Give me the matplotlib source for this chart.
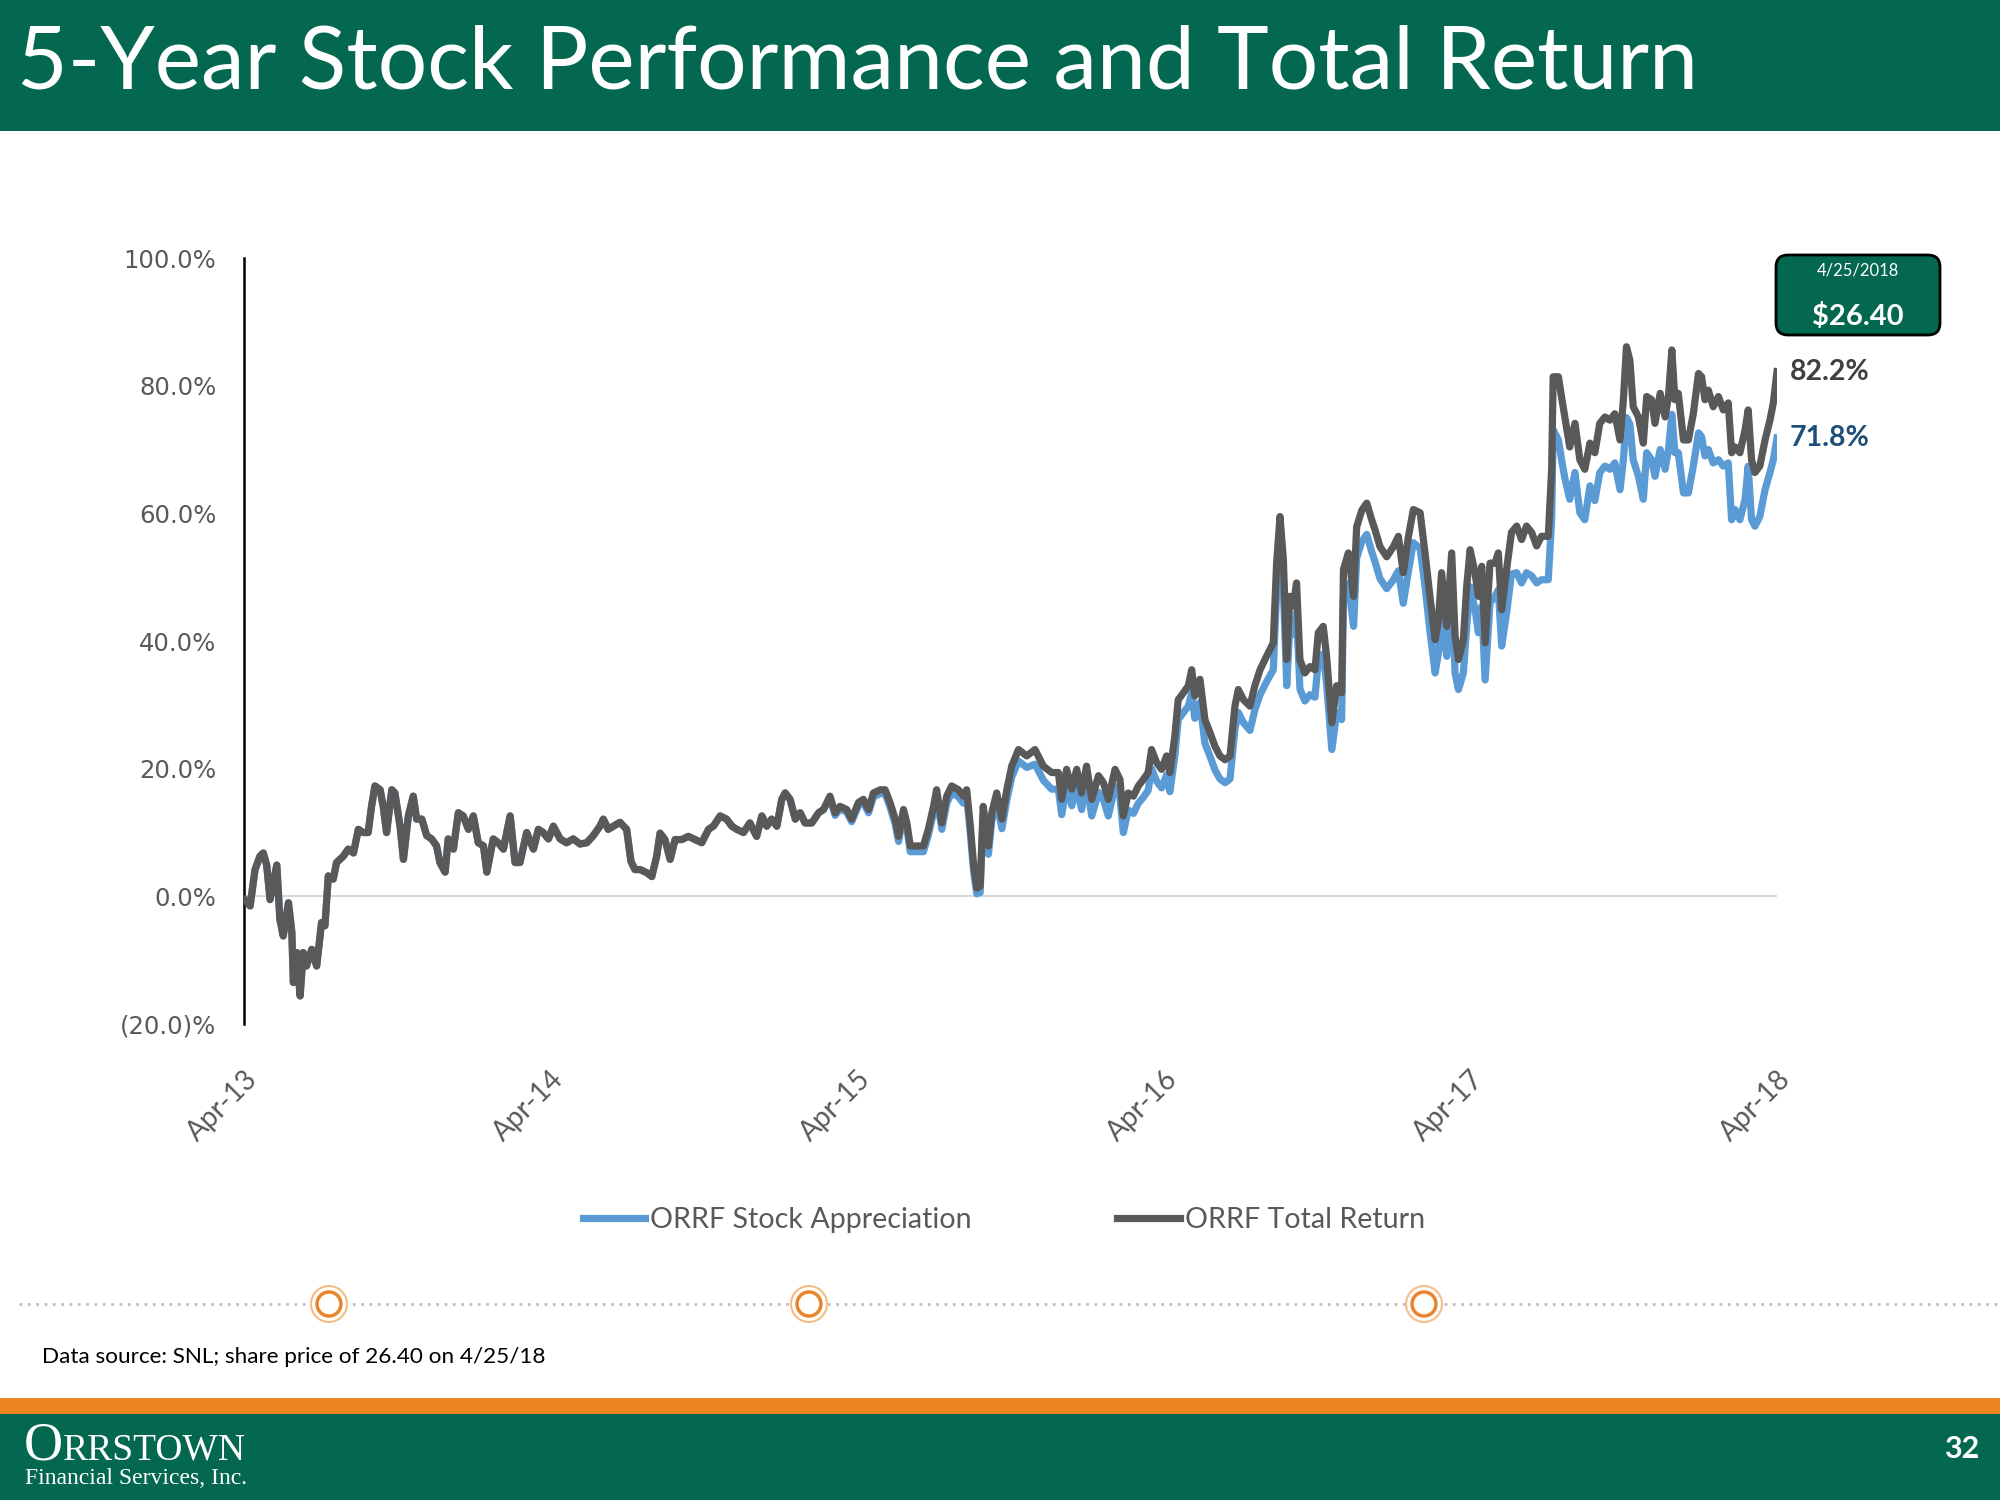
import matplotlib

matplotlib.use("Agg")
import matplotlib.pyplot as plt
from matplotlib.patches import Rectangle, FancyBboxPatch, Circle
from matplotlib.ticker import FuncFormatter

# years since Apr-2013
t_years = [
    0.003, 0.020, 0.036, 0.052, 0.063, 0.074, 0.085, 0.107, 0.117, 0.128,
    0.145, 0.156, 0.161, 0.172, 0.183, 0.193, 0.204, 0.221, 0.237, 0.253,
    0.264, 0.275, 0.291, 0.302, 0.324, 0.340, 0.357, 0.373, 0.389, 0.405,
    0.416, 0.427, 0.444, 0.454, 0.465, 0.482, 0.492, 0.509, 0.520, 0.536,
    0.552, 0.563, 0.580, 0.596, 0.612, 0.628, 0.639, 0.656, 0.666, 0.683,
    0.699, 0.715, 0.732, 0.748, 0.764, 0.781, 0.792, 0.813, 0.829, 0.846,
    0.868, 0.884, 0.900, 0.922, 0.944, 0.960, 0.976, 0.993, 1.009, 1.031,
    1.052, 1.074, 1.096, 1.118, 1.139, 1.161, 1.172, 1.188, 1.205, 1.226,
    1.248, 1.262, 1.275, 1.292, 1.314, 1.330, 1.346, 1.357, 1.373, 1.390,
    1.406, 1.428, 1.449, 1.471, 1.493, 1.515, 1.531, 1.553, 1.574, 1.591,
    1.607, 1.629, 1.650, 1.672, 1.689, 1.705, 1.721, 1.738, 1.754, 1.765,
    1.781, 1.798, 1.814, 1.830, 1.852, 1.874, 1.890, 1.911, 1.928, 1.944,
    1.966, 1.982, 2.004, 2.020, 2.037, 2.053, 2.075, 2.091, 2.107, 2.124,
    2.135, 2.151, 2.162, 2.173, 2.194, 2.216, 2.232, 2.249, 2.259, 2.276,
    2.292, 2.308, 2.330, 2.346, 2.357, 2.368, 2.379, 2.390, 2.401, 2.411,
    2.428, 2.439, 2.455, 2.472, 2.488, 2.504, 2.526, 2.553, 2.580, 2.607,
    2.634, 2.656, 2.667, 2.683, 2.700, 2.716, 2.732, 2.748, 2.765, 2.787,
    2.803, 2.819, 2.841, 2.857, 2.868, 2.884, 2.901, 2.917, 2.933, 2.949,
    2.960, 2.977, 2.993, 3.009, 3.020, 3.036, 3.047, 3.064, 3.080, 3.091,
    3.101, 3.118, 3.134, 3.151, 3.167, 3.183, 3.200, 3.216, 3.232, 3.243,
    3.260, 3.281, 3.297, 3.314, 3.335, 3.357, 3.368, 3.379, 3.390, 3.401,
    3.411, 3.422, 3.433, 3.444, 3.460, 3.477, 3.493, 3.504, 3.520, 3.531,
    3.548, 3.564, 3.580, 3.586, 3.602, 3.619, 3.629, 3.646, 3.662, 3.678,
    3.689, 3.705, 3.727, 3.749, 3.765, 3.781, 3.798, 3.814, 3.836, 3.852,
    3.868, 3.885, 3.896, 3.906, 3.923, 3.939, 3.950, 3.961, 3.977, 3.988,
    3.999, 4.015, 4.026, 4.037, 4.048, 4.064, 4.080, 4.091, 4.102, 4.118,
    4.134, 4.151, 4.167, 4.183, 4.200, 4.216, 4.232, 4.254, 4.265, 4.270,
    4.287, 4.297, 4.308, 4.324, 4.341, 4.357, 4.373, 4.390, 4.406, 4.422,
    4.439, 4.455, 4.471, 4.488, 4.499, 4.509, 4.520, 4.531, 4.548, 4.564,
    4.575, 4.591, 4.602, 4.619, 4.635, 4.646, 4.657, 4.667, 4.678, 4.695,
    4.711, 4.727, 4.744, 4.754, 4.765, 4.776, 4.792, 4.809, 4.825, 4.841,
    4.852, 4.863, 4.879, 4.896, 4.906, 4.917, 4.928, 4.944, 4.961, 4.977,
    4.988, 5.000,
]

total_return = [
    -0.5, -1.5, 4.2, 6.3, 6.8, 4.9, -0.5, 4.9, -3.6, -6.2,
    -1.0, -5.6, -13.5, -8.8, -15.6, -8.8, -10.9, -8.3, -10.9, -4.1,
    -4.6, 3.2, 2.7, 5.3, 6.3, 7.4, 6.8, 10.5, 10.0, 10.0,
    14.1, 17.3, 16.7, 14.1, 10.0, 16.7, 16.2, 11.0, 5.8, 12.6,
    15.7, 12.1, 12.1, 9.5, 9.0, 7.9, 5.3, 3.8, 9.0, 7.4,
    13.1, 12.6, 10.5, 12.6, 8.4, 7.9, 3.8, 9.0, 8.4, 7.4,
    12.6, 5.3, 5.3, 10.0, 7.4, 10.5, 10.0, 9.0, 11.0, 9.0,
    8.4, 9.0, 8.2, 8.4, 9.5, 11.0, 12.1, 10.5, 11.0, 11.6,
    10.5, 5.5, 4.2, 4.2, 3.7, 3.1, 6.3, 9.9, 8.9, 5.8,
    8.9, 8.9, 9.4, 8.9, 8.4, 10.5, 11.0, 12.6, 12.1, 11.0,
    10.5, 10.0, 11.5, 9.4, 12.6, 11.0, 12.1, 11.0, 15.2, 16.2,
    15.2, 12.1, 13.1, 11.5, 11.5, 13.1, 13.6, 15.7, 13.1, 14.1,
    13.6, 12.1, 14.7, 15.2, 13.6, 16.2, 16.7, 16.7, 14.7, 12.1,
    9.4, 13.6, 11.5, 7.9, 7.9, 7.9, 10.5, 14.1, 16.7, 11.5,
    15.7, 17.3, 16.7, 15.7, 16.7, 11.5, 5.3, 1.3, 1.6, 14.1,
    7.9, 13.1, 16.2, 12.1, 16.7, 20.4, 23.0, 22.0, 23.0, 20.4,
    19.4, 19.4, 15.2, 19.9, 16.8, 19.9, 16.2, 20.4, 15.2, 18.9,
    17.8, 15.2, 19.9, 18.3, 12.6, 16.2, 15.7, 17.3, 18.3, 19.4,
    23.0, 20.9, 19.9, 22.0, 19.4, 25.1, 30.8, 31.9, 33.0, 35.5,
    31.4, 34.0, 27.7, 25.6, 23.5, 22.0, 21.4, 22.0, 29.8, 32.4,
    30.8, 29.8, 33.0, 35.5, 37.6, 39.7, 52.2, 59.5, 52.7, 37.1,
    47.0, 45.5, 49.1, 37.1, 35.0, 36.0, 35.5, 41.3, 42.3, 37.6,
    27.2, 33.0, 31.9, 51.2, 53.8, 47.0, 57.9, 60.5, 61.6, 59.0,
    57.4, 54.8, 53.2, 54.8, 56.4, 50.7, 56.4, 60.6, 60.1, 53.8,
    47.0, 40.2, 43.3, 50.7, 42.3, 53.8, 40.8, 37.1, 40.2, 48.6,
    54.3, 50.7, 47.0, 51.7, 39.7, 52.2, 52.2, 53.8, 44.9, 51.2,
    57.0, 58.0, 55.9, 58.0, 57.0, 54.9, 56.4, 56.4, 66.9, 81.4,
    81.4, 78.3, 75.1, 70.4, 74.1, 68.4, 66.9, 71.0, 69.5, 74.1,
    75.1, 74.6, 75.6, 71.5, 77.8, 86.1, 84.0, 76.7, 75.1, 71.0,
    78.3, 77.8, 74.1, 78.8, 75.1, 78.3, 85.6, 77.8, 78.8, 71.5,
    71.5, 75.6, 81.9, 81.4, 77.8, 79.3, 76.7, 78.3, 76.2, 77.3,
    69.5, 70.4, 69.5, 73.1, 76.2, 68.4, 66.4, 67.4, 71.5, 74.6,
    77.3, 82.2,
]

appreciation = [
    -0.5, -1.5, 4.2, 6.3, 6.8, 4.9, -0.5, 4.9, -3.6, -6.2,
    -1.0, -5.6, -13.5, -8.8, -15.6, -8.8, -10.9, -8.3, -10.9, -4.1,
    -4.6, 3.2, 2.7, 5.3, 6.3, 7.4, 6.8, 10.5, 10.0, 10.0,
    14.1, 17.3, 16.7, 14.1, 10.0, 16.7, 16.2, 11.0, 5.8, 12.6,
    15.7, 12.1, 12.1, 9.5, 9.0, 7.9, 5.3, 3.8, 9.0, 7.4,
    13.1, 12.6, 10.5, 12.6, 8.4, 7.9, 3.8, 9.0, 8.4, 7.4,
    12.6, 5.3, 5.3, 10.0, 7.4, 10.5, 10.0, 9.0, 11.0, 9.0,
    8.4, 9.0, 8.2, 8.4, 9.5, 11.0, 12.1, 10.5, 11.0, 11.6,
    10.5, 5.5, 4.2, 4.2, 3.7, 3.1, 6.3, 9.9, 8.9, 5.8,
    8.9, 8.9, 9.4, 8.9, 8.4, 10.5, 11.0, 12.6, 12.1, 11.0,
    10.5, 10.0, 11.5, 9.4, 12.6, 11.0, 12.1, 11.0, 15.2, 16.2,
    15.2, 12.1, 13.1, 11.5, 11.5, 13.1, 13.6, 15.3, 12.7, 13.7,
    13.2, 11.7, 14.2, 14.7, 13.1, 15.6, 16.1, 16.1, 14.0, 11.3,
    8.6, 12.8, 10.7, 7.0, 7.0, 7.0, 9.6, 13.1, 15.7, 10.5,
    14.6, 16.2, 15.6, 14.6, 15.6, 10.4, 4.2, 0.4, 0.6, 12.8,
    6.6, 11.8, 14.8, 10.6, 15.1, 18.7, 21.2, 20.2, 20.7, 18.2,
    16.8, 16.8, 12.8, 17.3, 14.2, 17.3, 13.6, 17.8, 12.6, 16.3,
    15.2, 12.6, 17.2, 15.6, 10.0, 13.5, 13.0, 14.6, 15.5, 16.6,
    20.0, 18.0, 17.0, 19.0, 16.4, 22.0, 27.7, 28.8, 29.8, 31.9,
    27.9, 30.4, 24.0, 21.9, 19.8, 18.4, 17.8, 18.4, 26.2, 28.8,
    27.2, 26.0, 29.2, 31.6, 33.6, 35.5, 47.5, 54.5, 48.0, 33.0,
    42.5, 41.0, 44.5, 32.5, 30.6, 31.6, 31.2, 37.0, 38.0, 33.3,
    23.0, 28.8, 27.7, 46.5, 49.0, 42.3, 53.0, 55.6, 56.7, 54.0,
    52.4, 49.8, 48.2, 49.6, 51.0, 45.9, 51.0, 55.4, 54.5, 48.6,
    41.5, 35.0, 38.2, 45.0, 37.6, 48.0, 35.0, 32.4, 35.0, 42.3,
    48.5, 45.0, 41.3, 45.4, 33.9, 46.0, 47.0, 48.0, 39.2, 44.4,
    50.5, 50.7, 49.1, 50.7, 50.2, 49.1, 49.6, 49.6, 59.0, 73.1,
    71.5, 68.5, 65.5, 62.2, 66.4, 60.1, 59.0, 64.3, 62.0, 66.4,
    67.4, 66.9, 67.9, 63.7, 68.4, 75.0, 74.0, 68.4, 65.8, 62.2,
    69.5, 68.4, 65.8, 70.0, 66.9, 70.0, 75.5, 69.5, 69.5, 63.2,
    63.2, 67.4, 72.6, 72.0, 69.0, 70.0, 67.9, 68.4, 67.4, 67.9,
    59.0, 60.6, 59.0, 62.2, 67.4, 59.0, 58.0, 59.5, 63.7, 66.4,
    68.4, 71.8,
]

tick_years = [0, 1, 2, 3, 4, 5]
tick_labels = ["Apr-13", "Apr-14", "Apr-15", "Apr-16", "Apr-17", "Apr-18"]
y_ticks = [-20, 0, 20, 40, 60, 80, 100]
series_names = ["ORRF Stock Appreciation", "ORRF Total Return"]
price_date = "4/25/2018"
price_text = "$26.40"

GREEN = "#03684F"
ORANGE = "#EE841F"
BLUE = "#5B9BD5"
GREY = "#595959"
CAL = "Lato"

fig = plt.figure(figsize=(20, 15), dpi=100)

# background / decoration layer in pixel coords
bg = fig.add_axes([0, 0, 1, 1], zorder=0)
bg.set_xlim(0, 2000)
bg.set_ylim(1500, 0)
bg.axis("off")

bg.add_patch(Rectangle((0, 0), 2000, 131, color=GREEN, lw=0))
bg.text(17, 64, "5-Year Stock Performance and Total Return", color="white",
        fontsize=63, family=CAL, va="center", ha="left")

# dotted divider with rings
bg.plot([19, 2000], [1304, 1304], color="#BFBFBF", lw=2, ls=(0, (1, 2)))
for cx in [329, 809, 1424]:
    bg.add_patch(Circle((cx, 1304), 18, fc="white", ec="#F6BC85", lw=1.5, zorder=3))
    bg.add_patch(Circle((cx, 1304), 12, fc="white", ec="#E8862B", lw=2.5, zorder=4))

bg.text(42, 1357, "Data source: SNL; share price of 26.40 on 4/25/18",
        fontsize=16.2, family=CAL, va="center", ha="left", color="black")

bg.add_patch(Rectangle((0, 1398), 2000, 16, color=ORANGE, lw=0))
bg.add_patch(Rectangle((0, 1414), 2000, 86, color=GREEN, lw=0))
bg.text(24, 1460, "O", fontsize=39, family="Liberation Serif", color="white",
        va="baseline", ha="left")
bg.text(63, 1460, "RRSTOWN", fontsize=27, family="Liberation Serif",
        color="white", va="baseline", ha="left")
bg.text(25, 1484, "Financial Services, Inc.", fontsize=17,
        family="Liberation Serif", color="white", va="baseline", ha="left")
bg.text(1979, 1449, "32", fontsize=22, family=CAL, color="white",
        va="center", ha="right", fontweight="bold")

# price box
bg.add_patch(FancyBboxPatch((1776, 255), 164, 80,
                            boxstyle="round,pad=0,rounding_size=12",
                            fc=GREEN, ec="black", lw=2, zorder=3))
bg.text(1858, 271, price_date, fontsize=12, family=CAL, color="white",
        ha="center", va="center", zorder=4)
bg.text(1858, 317, price_text, fontsize=21, family=CAL, color="white",
        ha="center", va="center", fontweight="bold", zorder=4)

# chart
ax = fig.add_axes([0.122, 0.3173, 0.7665, 0.5107], zorder=1)
ax.patch.set_alpha(0)
ax.axhline(0, color="#D9D9D9", lw=1.5, zorder=1)
ax.plot(t_years, appreciation, color=BLUE, lw=5.2, label=series_names[0],
        zorder=2, solid_joinstyle="round")
ax.plot(t_years, total_return, color=GREY, lw=5.2, label=series_names[1],
        zorder=3, solid_joinstyle="round")

ax.set_xlim(0, 5)
ax.set_ylim(-20, 100)
ax.set_yticks(y_ticks)
ax.yaxis.set_major_formatter(
    FuncFormatter(lambda v, p: f"({abs(v):.1f})%" if v < 0 else f"{v:.1f}%"))
ax.set_xticks(tick_years)
ax.set_xticklabels(tick_labels, rotation=45, ha="right", va="top",
                   rotation_mode="anchor", family=CAL, fontsize=20, color=GREY)
for lbl in ax.get_yticklabels():
    lbl.set_family("DejaVu Sans")
    lbl.set_fontsize(17.5)
    lbl.set_color(GREY)
ax.tick_params(axis="y", length=0, pad=20)
ax.tick_params(axis="x", length=0, pad=30)
for s in ["top", "right", "bottom"]:
    ax.spines[s].set_visible(False)
ax.spines["left"].set_color("black")
ax.spines["left"].set_linewidth(1.8)

ax.annotate(f"{total_return[-1]:.1f}%", xy=(t_years[-1], total_return[-1]),
            xytext=(9, 0), textcoords="offset points", va="center", ha="left",
            fontsize=20.5, fontweight="bold", family=CAL, color="#404040")
ax.annotate(f"{appreciation[-1]:.1f}%", xy=(t_years[-1], appreciation[-1]),
            xytext=(9, 0), textcoords="offset points", va="center", ha="left",
            fontsize=20.5, fontweight="bold", family=CAL, color="#1F4E79")

ax.legend(loc="center", bbox_to_anchor=(0.5018, 0.1867),
          bbox_transform=fig.transFigure, ncol=2, frameon=False,
          prop={"family": CAL, "size": 20.6}, labelcolor=GREY,
          handlelength=2.2, handletextpad=0.15, columnspacing=5.1)

plt.savefig("out.png", dpi=100)
